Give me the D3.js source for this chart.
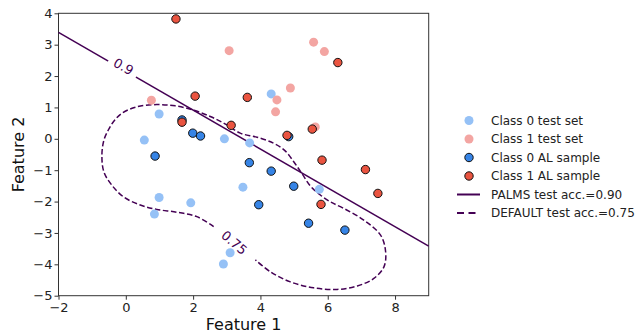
<!DOCTYPE html>
<html>
<head>
<meta charset="utf-8">
<script src="https://cdn.jsdelivr.net/npm/d3@7"></script>
<style>
  html, body { margin: 0; padding: 0; background: #fff; }
  svg { display: block; font-family: "DejaVu Sans", sans-serif; }
</style>
</head>
<body>
<div id="chart"></div>
<script>
// values (feature 1, feature 2)
const class0TestX = [0.99, 0.55, 2.93, 4.32, 3.68, 3.48, 0.99, 1.93, 5.75, 0.85, 3.10, 2.90];
const class0TestY = [0.79, -0.04, 0.00, 1.43, -0.13, -1.54, -1.87, -2.04, -1.61, -2.40, -3.63, -3.99];

const class1TestX = [3.07, 0.76, 5.58, 5.90, 4.89, 4.49, 4.45, 5.63];
const class1TestY = [2.81, 1.23, 3.08, 2.78, 1.62, 1.24, 0.86, 0.38];

const class0ALX = [1.67, 1.99, 2.22, 0.87, 3.67, 4.32, 4.99, 3.95, 5.43, 6.51, 4.84];
const class0ALY = [0.60, 0.18, 0.09, -0.55, -0.76, -1.03, -1.51, -2.10, -2.69, -2.91, 0.07];

const class1ALX = [1.49, 2.06, 3.61, 3.13, 1.67, 6.30, 4.79, 5.54, 5.83, 7.12, 7.49, 5.80];
const class1ALY = [3.82, 1.36, 1.32, 0.43, 0.53, 2.43, 0.11, 0.31, -0.68, -0.98, -1.74, -2.09];

// PALMS decision boundary (straight line across the axes)
const palmsX = [-2, 9];
const palmsY = [3.39, -3.42];

// DEFAULT decision boundary, traced contour (open at the label)
const defaultX = [2.61, 2.11, 1.52, 0.92, 0.43, -0.07, -0.42, -0.65, -0.71, -0.65, -0.52, -0.35, -0.11,
  0.33, 0.92, 1.47, 2.00, 2.51, 2.96, 3.40, 3.90, 4.39, 4.71, 4.99, 5.24, 5.49, 5.78, 6.08, 6.48,
  7.07, 7.57, 7.72, 7.67, 7.37, 6.88, 6.28, 5.58, 4.89, 4.30, 3.85];
const defaultY = [-2.80, -2.48, -2.34, -2.25, -2.11, -1.85, -1.47, -1.06, -0.52, -0.04, 0.28, 0.57, 0.82,
  1.02, 1.09, 1.05, 0.92, 0.71, 0.47, 0.18, 0.05, -0.14, -0.36, -0.73, -1.12, -1.51, -1.79, -2.01, -2.22,
  -2.59, -3.07, -3.60, -4.08, -4.45, -4.69, -4.80, -4.75, -4.56, -4.24, -3.86];

// contour labels
const contourLabels = ["0.9", "0.75"];
const contourLabelX = [-0.07, 3.22];
const contourLabelY = [2.30, -3.31];
const contourLabelAngle = [30, 40];

const xTicks = [-2, 0, 2, 4, 6, 8];
const yTicks = [4, 3, 2, 1, 0, -1, -2, -3, -4, -5];

const legendLabels = [
  "Class 0 test set",
  "Class 1 test set",
  "Class 0 AL sample",
  "Class 1 AL sample",
  "PALMS test acc.=0.90",
  "DEFAULT test acc.=0.75"
];

// styling
const width = 640,
      height = 334,
      margin = {top: 13.3, right: 211.3, bottom: 38.3, left: 58.5};

const lineColor = "#440154";
const colors = {
  test0: "#95c1f6",
  test1: "#f3a5a2",
  al0: "#3684e6",
  al1: "#ea5440"
};

const zip = (xs, ys) => xs.map((x, i) => [x, ys[i]]);

const x = d3.scaleLinear()
  .domain([-2, 9])
  .range([margin.left, width - margin.right]);

const y = d3.scaleLinear()
  .domain([-5, 4])
  .range([height - margin.bottom, margin.top]);

const svg = d3.select("#chart")
  .append("svg")
  .attr("width", width)
  .attr("height", height);

// axes
const xAxis = svg.append("g")
  .attr("transform", `translate(0,${height - margin.bottom})`)
  .call(d3.axisBottom(x).tickValues(xTicks).tickSize(4).tickPadding(3));

const yAxis = svg.append("g")
  .attr("transform", `translate(${margin.left},0)`)
  .call(d3.axisLeft(y).tickValues(yTicks).tickSize(4).tickPadding(2));

[xAxis, yAxis].forEach(a => {
  a.select(".domain").remove();
  a.selectAll("line").attr("stroke", "#333");
  a.selectAll("text")
    .attr("fill", "#222")
    .attr("font-size", 13)
    .attr("font-family", "DejaVu Sans");
});

// frame
svg.append("rect")
  .attr("x", x(-2))
  .attr("y", y(4))
  .attr("width", x(9) - x(-2))
  .attr("height", y(-5) - y(4))
  .attr("fill", "none")
  .attr("stroke", "#333")
  .attr("stroke-width", 1);

// axis titles
svg.append("text")
  .attr("x", (x(-2) + x(9)) / 2)
  .attr("y", 330)
  .attr("text-anchor", "middle")
  .attr("font-size", 16)
  .attr("fill", "#111")
  .text("Feature 1");

svg.append("text")
  .attr("transform", `translate(24,${(y(4) + y(-5)) / 2}) rotate(-90)`)
  .attr("text-anchor", "middle")
  .attr("font-size", 16)
  .attr("fill", "#111")
  .text("Feature 2");

const plot = svg.append("g");

const line = d3.line().x(d => x(d[0])).y(d => y(d[1]));

// PALMS boundary
plot.append("path")
  .attr("d", line(zip(palmsX, palmsY)))
  .attr("fill", "none")
  .attr("stroke", lineColor)
  .attr("stroke-width", 1.5);

// DEFAULT boundary
plot.append("path")
  .attr("d", line.curve(d3.curveCatmullRom)(zip(defaultX, defaultY)))
  .attr("fill", "none")
  .attr("stroke", lineColor)
  .attr("stroke-width", 1.5)
  .attr("stroke-dasharray", "5.5,2.6");

// contour labels, the first one cuts a gap in the straight line
contourLabels.forEach((t, i) => {
  const g = plot.append("g")
    .attr("transform", `translate(${x(contourLabelX[i])},${y(contourLabelY[i])}) rotate(${contourLabelAngle[i]})`);
  if (i === 0) {
    g.append("rect")
      .attr("x", -16).attr("y", -8)
      .attr("width", 32).attr("height", 16)
      .attr("fill", "#fff");
  }
  g.append("text")
    .attr("text-anchor", "middle")
    .attr("dy", "0.35em")
    .attr("font-size", 13)
    .attr("fill", lineColor)
    .text(t);
});

// points
const drawPoints = (xs, ys, fill, edge) => {
  plot.append("g")
    .selectAll("circle")
    .data(zip(xs, ys))
    .join("circle")
    .attr("cx", d => x(d[0]))
    .attr("cy", d => y(d[1]))
    .attr("r", edge ? 4.2 : 4.5)
    .attr("fill", fill)
    .attr("stroke", edge ? "#111" : "none")
    .attr("stroke-width", edge ? 1 : 0);
};

drawPoints(class0TestX, class0TestY, colors.test0, false);
drawPoints(class1TestX, class1TestY, colors.test1, false);
drawPoints(class0ALX, class0ALY, colors.al0, true);
drawPoints(class1ALX, class1ALY, colors.al1, true);

// legend
const legend = svg.append("g").attr("transform", "translate(456,120.5)");
const legendStyles = [
  {type: "dot", fill: colors.test0, edge: false},
  {type: "dot", fill: colors.test1, edge: false},
  {type: "dot", fill: colors.al0, edge: true},
  {type: "dot", fill: colors.al1, edge: true},
  {type: "line", dash: null},
  {type: "line", dash: "7,4.5"}
];

legendLabels.forEach((label, i) => {
  const row = legend.append("g").attr("transform", `translate(0,${i * 18.5})`);
  const s = legendStyles[i];
  if (s.type === "dot") {
    row.append("circle")
      .attr("cx", 13)
      .attr("r", s.edge ? 4.2 : 4.5)
      .attr("fill", s.fill)
      .attr("stroke", s.edge ? "#111" : "none")
      .attr("stroke-width", s.edge ? 1 : 0);
  } else {
    row.append("line")
      .attr("x1", 1).attr("x2", 24)
      .attr("stroke", lineColor)
      .attr("stroke-width", 2)
      .attr("stroke-dasharray", s.dash);
  }
  row.append("text")
    .attr("x", 35)
    .attr("dy", "0.35em")
    .attr("font-size", 12)
    .attr("fill", "#222")
    .text(label);
});
</script>
</body>
</html>
